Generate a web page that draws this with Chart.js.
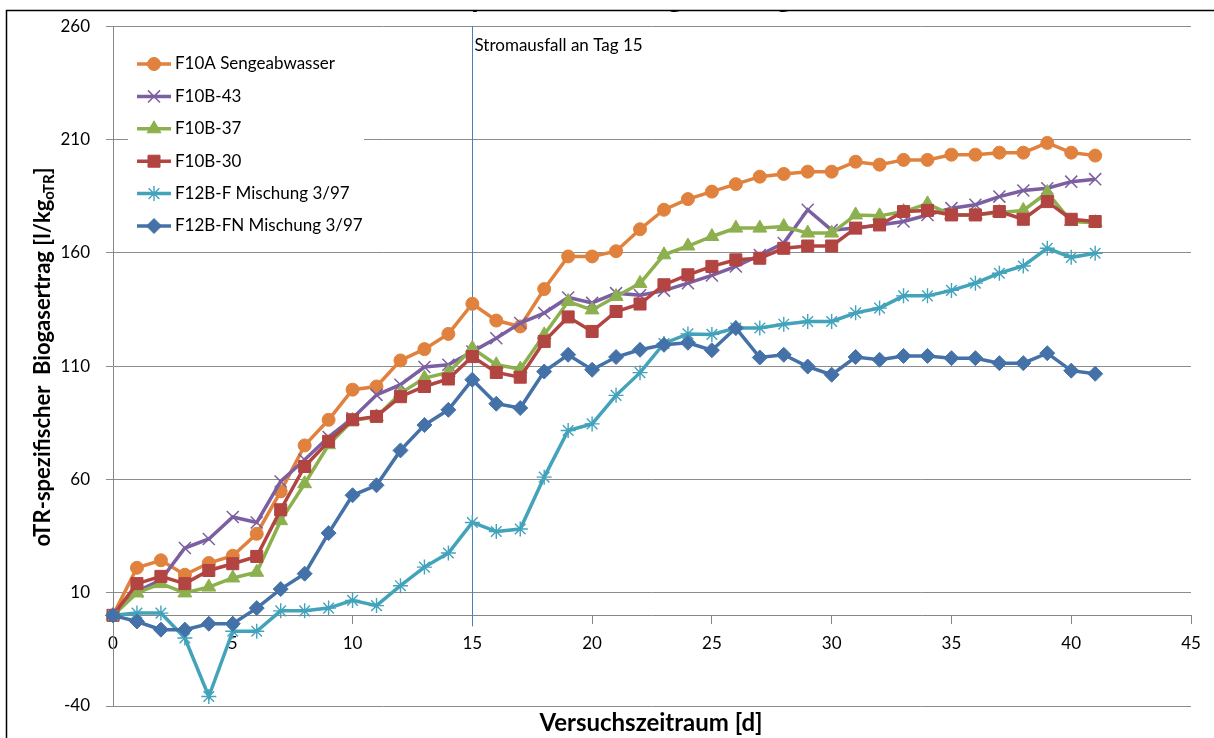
<!DOCTYPE html>
<html><head><meta charset="utf-8">
<script src="https://cdn.jsdelivr.net/npm/chart.js@4/dist/chart.umd.min.js"></script>
<style>html,body{margin:0;padding:0;background:#fff;overflow:hidden}#wrap{width:1214px;height:738px;position:relative}canvas{display:block}</style>
</head><body><div id="wrap"><canvas id="c" width="1214" height="738"></canvas></div>
<script>
// ---------- data ----------
const days = [0,1,2,3,4,5,6,7,8,9,10,11,12,13,14,15,16,17,18,19,20,21,22,23,24,25,26,27,28,29,30,31,32,33,34,35,36,37,38,39,40,41];
const seriesNames = ['F10A Sengeabwasser','F10B-43','F10B-37','F10B-30','F12B-F Mischung 3/97','F12B-FN Mischung 3/97'];
const f10a  = [0,21,24.3,17.9,23.1,26.3,36,54.7,75,86.3,99.6,101,112.5,117.5,124.2,137.5,130.1,127.5,144,158.4,158.4,160.7,170.4,179,183.7,187,190.3,193.6,194.8,195.8,195.8,200.2,198.9,201,201,203.3,203.3,204.2,204.2,208.5,204.2,202.9];
const f10b43 = [0,10.6,15.7,29.7,33.7,43.4,41,59.1,68.7,78.7,87,97.3,101.8,109.6,110.6,116.4,122.3,129,133.4,140.3,137.9,142.2,141.3,143.3,146.6,150,154,159,164.3,179,170,170.9,172.3,173.8,176.7,179.7,181.2,184.8,187.5,188.5,191.4,192.5];
const f10b37 = [0,9.9,14,9.9,12.5,16.5,19,41.8,58.1,75.3,86,87.6,98,104.7,107.2,117.9,110.6,108.7,123.8,138.5,134.8,140.7,146.5,159.1,163,167.2,170.9,170.9,171.6,168.7,168.7,176.7,176.3,178.2,181.6,176.7,176.7,177.8,178.7,186.6,173.8,173.3];
const f10b30 = [0,14,17.2,14,19.8,22.8,26,46.6,65.7,76.8,86.3,87.8,96.5,101,104.3,114.2,107.2,105.1,120.9,131.7,125.3,134.1,137.4,145.9,150.3,154,156.9,157.6,162,163,163,170.9,172.3,178.2,178.7,176.7,176.7,178.2,174.8,182.6,174.8,173.8];
const f12bf  = [0,1,1,-10,-35.8,-7,-7,2,2,3.2,6.6,4.3,13.1,21.3,27.5,41,37,38.1,61,81.6,84.5,97.1,107.1,120,124.2,124,126.8,126.8,128.5,129.7,129.7,133.5,135.6,141,141,143.4,146.6,151,154.2,162,158,159.8];
const f12bfn = [0,-2.7,-6.3,-6.3,-3.7,-3.7,3.2,11.6,18.4,36.3,53,57.4,72.8,84,90.7,104,93.4,91.5,107.6,115,108.4,114,117.2,119.4,120.3,117,126.8,113.8,115,109.8,106.2,114,112.8,114.5,114.5,113.5,113.5,111.3,111.3,115.7,108,106.6];
const seriesValues = [f10a, f10b43, f10b37, f10b30, f12bf, f12bfn];
const yTickValues = [-40,10,60,110,160,210,260];
const xTickValues = [0,5,10,15,20,25,30,35,40,45];
const eventDay = 15;
const eventLabel = 'Stromausfall an Tag 15';
const chartTitle = 'Spezifischer Biogasertrag';
const xTitle = 'Versuchszeitraum [d]';
const yTitleMain = 'oTR-spezifischer  Biogasertrag [l/kg';
const yTitleSub = 'oTR';
const yTitleEnd = ']';

// ---------- styles ----------
const FONT = 'Lato, "Open Sans", sans-serif';
const colors = ['#E0823D','#7B5FA0','#8DB04F','#B24441','#42A3BB','#4472A8'];
const pStyles = ['circle','crossRot','triangle','rect','star','rectRot'];
const pRadius = [6.5,8.5,8,8.5,7.5,7.5];
const pBorder = [1,1.5,1,1,1.4,1];

const datasets = seriesValues.map((vals, i) => ({
  label: seriesNames[i],
  data: days.map((d, k) => ({x: d, y: vals[k]})),
  borderColor: colors[i],
  backgroundColor: colors[i],
  borderWidth: 3.5,
  pointStyle: pStyles[i],
  pointRadius: pRadius[i],
  pointHoverRadius: pRadius[i],
  pointBorderWidth: pBorder[i],
  pointBackgroundColor: colors[i],
  pointBorderColor: colors[i],
  tension: 0,
  clip: false,
  order: seriesValues.length - i
}));

const decor = {
  id: 'decor',
  beforeDatasetsDraw(chart) {
    const ctx = chart.ctx, xs = chart.scales.x, ys = chart.scales.y;
    const px = Math.round(xs.getPixelForValue(eventDay)) + 0.5;
    ctx.save();
    ctx.strokeStyle = '#4A7EBB';
    ctx.lineWidth = 1;
    ctx.beginPath();
    ctx.moveTo(px, ys.getPixelForValue(260));
    ctx.lineTo(px, ys.getPixelForValue(0) + 11);
    ctx.stroke();
    ctx.fillStyle = '#000';
    ctx.font = '17px ' + FONT;
    ctx.textBaseline = 'middle';
    ctx.textAlign = 'left';
    ctx.fillText(eventLabel, px + 2, 46);
    ctx.restore();
  },
  afterDraw(chart) {
    const ctx = chart.ctx;
    ctx.save();
    // title (cut off at the top edge of the frame)
    ctx.save();
    ctx.beginPath();
    ctx.rect(0, 10, 1214, 20);
    ctx.clip();
    ctx.font = 'bold 30px ' + FONT;
    ctx.fillStyle = '#000';
    ctx.textBaseline = 'alphabetic';
    ctx.textAlign = 'left';
    const tx = 480 - ctx.measureText('S').width - ctx.measureText('p').width / 2;
    ctx.fillText(chartTitle, tx, 7);
    ctx.restore();
    // frame
    ctx.strokeStyle = '#000';
    ctx.lineWidth = 1.5;
    ctx.beginPath();
    ctx.moveTo(1220, 10.5);
    ctx.lineTo(6.5, 10.5);
    ctx.lineTo(6.5, 745);
    ctx.stroke();
    // legend
    ctx.fillStyle = '#fff';
    ctx.fillRect(128, 40, 236, 205);
    chart.data.datasets.forEach((ds, i) => {
      const y = 64 + i * 32.4;
      ctx.strokeStyle = ds.borderColor;
      ctx.lineWidth = 3.5;
      ctx.beginPath();
      ctx.moveTo(137, y); ctx.lineTo(171, y);
      ctx.stroke();
      ctx.fillStyle = ds.pointBackgroundColor;
      ctx.strokeStyle = ds.pointBorderColor;
      ctx.lineWidth = ds.pointBorderWidth;
      Chart.helpers.drawPoint(ctx, {pointStyle: ds.pointStyle, radius: ds.pointRadius, rotation: 0, borderWidth: ds.pointBorderWidth}, 154, y);
      ctx.fillStyle = '#000';
      ctx.font = '17px ' + FONT;
      ctx.textBaseline = 'middle';
      ctx.textAlign = 'left';
      ctx.fillText(ds.label, 175, y);
    });
    // x title
    ctx.fillStyle = '#000';
    ctx.font = 'bold 24px ' + FONT;
    ctx.textAlign = 'center';
    ctx.textBaseline = 'middle';
    ctx.fillText(xTitle, 651, 723);
    // y title (rotated, with subscript)
    ctx.translate(42, 357);
    ctx.rotate(-Math.PI / 2);
    const fMain = 'bold 22px ' + FONT, fSub = 'bold 15px ' + FONT;
    ctx.font = fMain; const w1 = ctx.measureText(yTitleMain).width; const w3 = ctx.measureText(yTitleEnd).width;
    ctx.font = fSub; const w2 = ctx.measureText(yTitleSub).width;
    let x0 = -(w1 + w2 + w3) / 2;
    ctx.textAlign = 'left';
    ctx.textBaseline = 'alphabetic';
    ctx.font = fMain; ctx.fillText(yTitleMain, x0, 8);
    ctx.font = fSub; ctx.fillText(yTitleSub, x0 + w1, 12);
    ctx.font = fMain; ctx.fillText(yTitleEnd, x0 + w1 + w2, 8);
    ctx.restore();
  }
};

new Chart(document.getElementById('c'), {
  type: 'line',
  data: { datasets },
  options: {
    responsive: false,
    animation: false,
    devicePixelRatio: 1,
    layout: { padding: { left: 0, top: 26, right: 23, bottom: 32 } },
    plugins: { legend: { display: false }, tooltip: { enabled: false }, title: { display: false } },
    scales: {
      x: {
        type: 'linear', min: 0, max: 45,
        position: { y: 0 },
        afterBuildTicks: s => { s.ticks = xTickValues.map(v => ({ value: v })); },
        grid: { drawOnChartArea: false, drawTicks: true, tickLength: 8, color: '#868686', lineWidth: 1 },
        border: { display: true, color: '#868686', width: 1 },
        ticks: { font: { family: FONT, size: 17 }, color: '#000', padding: 10, maxRotation: 0, autoSkip: false }
      },
      y: {
        type: 'linear', min: -40, max: 260, position: 'left',
        afterBuildTicks: s => { s.ticks = yTickValues.map(v => ({ value: v })); },
        afterFit: s => { s.width = 113; },
        grid: { color: '#8C8C8C', lineWidth: 1, drawTicks: true, tickLength: 7 },
        border: { display: true, color: '#868686', width: 1 },
        ticks: { font: { family: FONT, size: 17 }, color: '#000', padding: 16 }
      }
    }
  },
  plugins: [decor]
});
</script>
</body></html>
